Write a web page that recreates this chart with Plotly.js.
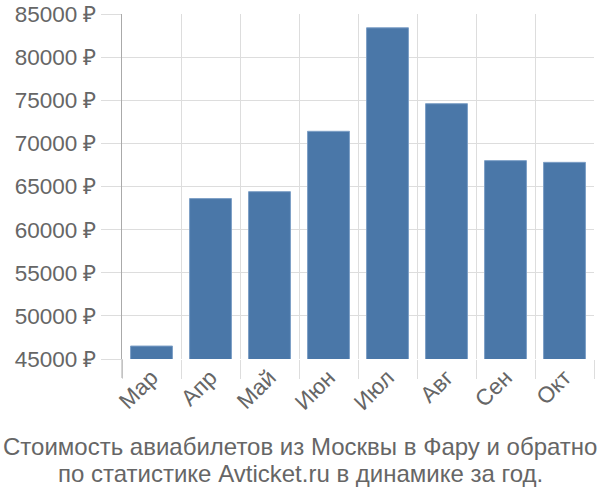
<!DOCTYPE html>
<html>
<head>
<meta charset="utf-8">
<script src="https://cdn.plot.ly/plotly-3.0.1.min.js"></script>
<style>html,body{margin:0;padding:0;background:#fff;}#chart{width:600px;height:500px;}</style>
</head>
<body>
<div id="chart"></div>
<script>
const months = ["Мар", "Апр", "Май", "Июн", "Июл", "Авг", "Сен", "Окт"];
const prices = [46500, 63600, 64400, 71400, 83400, 74600, 68000, 67800];
const yTicks = [45000, 50000, 55000, 60000, 65000, 70000, 75000, 80000, 85000];
const yTickLabels = yTicks.map(v => v + " ₽");
const titleLines = ["Стоимость авиабилетов из Москвы в Фару и обратно", "по статистике Avticket.ru в динамике за год."];

const font = "Liberation Sans, Arial, sans-serif";
const trace = {
  type: "bar",
  x: months,
  y: prices,
  marker: {color: "#4a77a8", line: {color: "#7d9fc6", width: 1}},
  hoverinfo: "none"
};
const titleShifts = [-87, -114];
const layout = {
  width: 600, height: 500,
  margin: {l: 122, r: 6, t: 14, b: 141},
  paper_bgcolor: "#fff", plot_bgcolor: "#fff",
  bargap: 0.29,
  showlegend: false,
  font: {family: font, color: "#666", size: 22},
  xaxis: {
    type: "category",
    tickson: "boundaries",
    showgrid: true, gridcolor: "#dddddd", gridwidth: 1,
    ticks: "outside", ticklen: 19, tickcolor: "#dddddd", tickwidth: 1,
    tickangle: -45,
    tickfont: {family: font, size: 22.5, color: "#666"},
    showline: false, zeroline: false
  },
  yaxis: {
    range: [45000, 85000],
    tickvals: yTicks, ticktext: yTickLabels,
    showgrid: true, gridcolor: "#dddddd", gridwidth: 1,
    ticks: "outside", ticklen: 20, tickcolor: "#dddddd", tickwidth: 1,
    tickfont: {family: font, size: 22.5, color: "#666"},
    showline: true, linecolor: "#aaaaaa", linewidth: 1,
    zeroline: false
  },
  shapes: [{
    type: "line", xref: "paper", yref: "paper",
    x0: 0, x1: 0, y0: 0, y1: -0.055,
    line: {color: "#aaaaaa", width: 1}
  }],
  annotations: titleLines.map((t, i) => ({
    xref: "paper", yref: "paper", x: 0.5, y: 0,
    xanchor: "center", yanchor: "middle",
    yshift: titleShifts[i],
    xshift: -58,
    text: t,
    showarrow: false,
    font: {family: font, size: 24, color: "#666"}
  }))
};
Plotly.newPlot("chart", [trace], layout, {staticPlot: true});
</script>
</body>
</html>
